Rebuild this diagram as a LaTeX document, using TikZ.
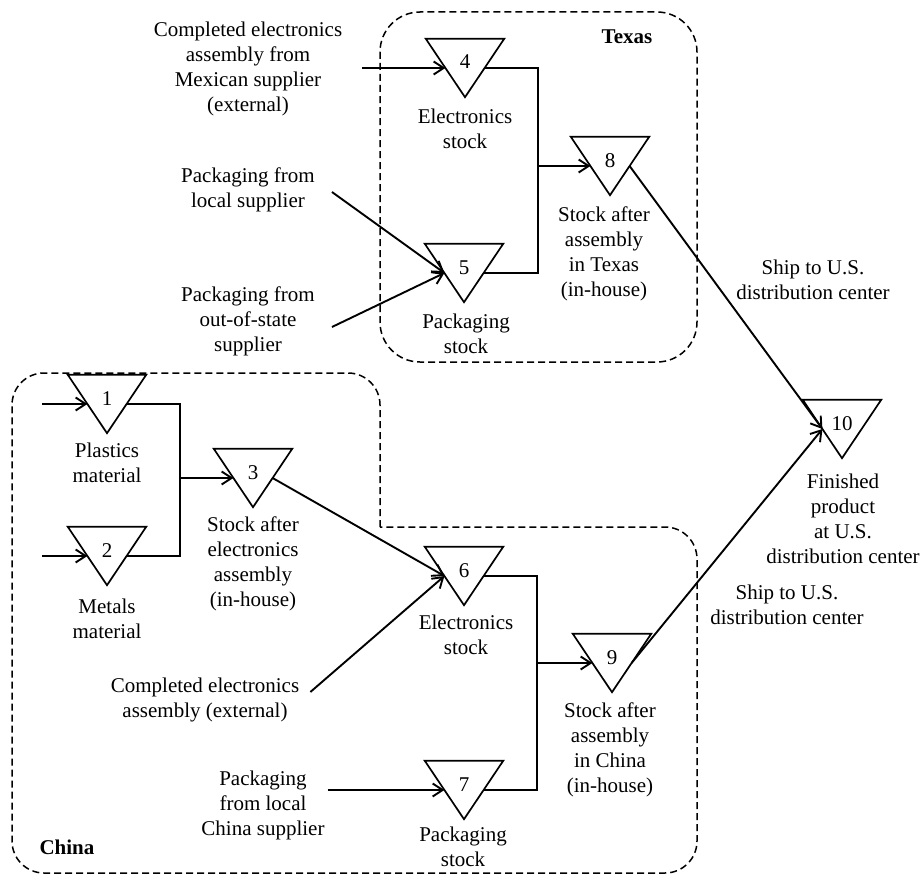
\documentclass[tikz,border=0pt]{standalone}
\usepackage{fontspec}
\setmainfont{Liberation Serif}
\usetikzlibrary{arrows.meta,calc}
\begin{document}
\begin{tikzpicture}[x=1pt,y=-1pt,
  every node/.style={font=\fontsize{21}{25}\selectfont},
  stock/.style={minimum width=78pt,minimum height=58pt,inner sep=0pt,
                text height=14pt,text depth=12pt},
  lbl/.style={align=center,inner sep=0pt},
  flow/.style={line width=1.9pt},
  arr/.style={flow,-{Straight Barb[length=10pt,width=13pt,line width=1.9pt]}},
  region/.style={line width=1.5pt,dash pattern=on 7pt off 4pt},
  tri/.style={line width=1.7pt,line join=miter},
  regionname/.style={font=\fontsize{21}{25}\selectfont\bfseries,inner sep=0pt}]
\useasboundingbox (0,0) rectangle (924,875);

% sites
\draw[region,rounded corners=40pt] (380,12) rectangle (697,362);
\draw[region,rounded corners=32pt] (380,527) -- (380,373) -- (12,373) -- (12,873)
  -- (697,873) -- (697,527) -- (380,527);
\node[regionname] (texas) at (627,37) {Texas};
\node[regionname] (china) at (67,847) {China};

% inventory points
\foreach \n/\x/\y in {1/107/404, 2/107/556, 3/253/478, 4/465/68, 5/464/273,
                      6/464/576, 7/464/790, 8/610/166, 9/612/663, 10/842/429} {
  \node[stock] (t\n) at (\x,\y) {\n};
  \draw[tri] (t\n.north west) -- (t\n.north east) -- (t\n.south) -- cycle;
  \coordinate (i\n) at ($(t\n.north west)!0.5!(t\n.south)$);
  \coordinate (o\n) at ($(t\n.north east)!0.5!(t\n.south)$);
}

% captions of the inventory points
\node[lbl] (l1) at (107,463) {Plastics\\material};
\node[lbl] (l2) at (107,619) {Metals\\material};
\node[lbl] (l3) at (253,564) {Stock after\\electronics\\assembly\\(in-house)};
\node[lbl] (l4) at (465,129) {Electronics\\stock};
\node[lbl] (l5) at (466,334) {Packaging\\stock};
\node[lbl] (l6) at (466,635) {Electronics\\stock};
\node[lbl] (l7) at (463,847) {Packaging\\stock};
\node[lbl] (l8) at (604,254) {Stock after\\assembly\\in Texas\\(in-house)};
\node[lbl] (l9) at (610,750) {Stock after\\assembly\\in China\\(in-house)};
\node[lbl] (l10) at (843,519) {Finished\\product\\at U.S.\\distribution center};

% suppliers
\node[lbl] (sMex) at (248,69) {Completed electronics\\assembly from\\Mexican supplier\\(external)};
\node[lbl] (sPL) at (248,190) {Packaging from\\local supplier};
\node[lbl] (sPO) at (248,321) {Packaging from\\out-of-state\\supplier};
\node[lbl] (sCE) at (205,700) {Completed electronics\\assembly (external)};
\node[lbl] (sPC) at (263,805) {Packaging\\from local\\China supplier};
\coordinate (s1) at (42,404);
\coordinate (s2) at (42,556);

% shipping
\node[lbl] (ship1) at (813,280) {Ship to U.S.\\distribution center};
\node[lbl] (ship2) at (787,605) {Ship to U.S.\\distribution center};

% junctions of the assembly steps
\coordinate (j12) at (180,478);
\coordinate (j45) at (538,166);
\coordinate (j67) at (537,663);

% incoming material
\draw[arr] (s1) -- (i1);
\draw[arr] (s2) -- (i2);
\draw[arr] ([xshift=20pt]i4 -| sMex.east) -- (i4);
\draw[arr] ([xshift=17pt,yshift=-2pt]sPL.east) -- (i5);
\draw[arr] ([xshift=17pt,yshift=-6pt]sPO.east) -- (i5);
\draw[arr] ([xshift=11pt,yshift=8pt]sCE.east) -- (i6);
\draw[arr] ([xshift=3pt]i7 -| sPC.east) -- (i7);

% assembly
\draw[flow] (o1) -| (j12) |- (o2);
\draw[arr] (j12) -- (i3);
\draw[flow] (o4) -| (j45) |- (o5);
\draw[arr] (j45) -- (i8);
\draw[flow] (o6) -| (j67) |- (o7);
\draw[arr] (j67) -- (i9);
\draw[arr] (o3) -- (i6);

% shipping to the distribution center
\draw[arr] (o8) -- (i10);
\draw[arr] (o9) -- (i10);
\end{tikzpicture}
\end{document}
